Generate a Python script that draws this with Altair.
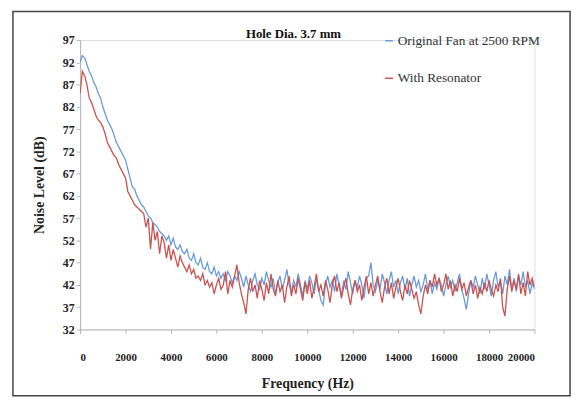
import altair as alt
import pandas as pd

# Frequency grid (Hz)
freq_hz = list(range(0, 20001, 100))

# Original fan at 2500 RPM (dB)
original = [
    92, 93.5, 93, 91.5, 90, 89, 87.5, 86.5, 85, 84,
    82, 80.5, 79, 78, 77, 75.5, 74, 73, 72, 71,
    70, 68, 66, 64, 63.5, 62, 61, 60, 59.5, 58.5,
    57.5, 57, 56, 55.5, 55, 54, 53.5, 53, 52, 53,
    51, 52.5, 50.5, 50, 51, 49.5, 49, 50, 48, 47.5,
    49, 47, 46.5, 48, 46, 45.5, 47, 45, 44.5, 46,
    44, 45, 43.5, 44.5, 43, 45, 44, 42.5, 44, 43, 45,
    43.5, 41.5, 44, 42, 40.5, 43, 44.5, 42, 41, 43.5,
    42, 45, 43, 41.5, 43.5, 40, 42.5, 44, 41, 43,
    45.5, 42, 40.5, 43, 41.5, 44.5, 42, 39.5, 43, 41,
    44, 42.5, 40, 43.5, 41, 38.5, 37.5, 42, 44, 41.5,
    43, 40.5, 44.5, 42, 39.5, 43, 41, 45, 42.5, 40,
    43, 41.5, 44, 42, 39, 43.5, 44, 47, 42, 40.5,
    43, 41, 44.5, 42.5, 40, 43, 45, 41.5, 43, 40,
    42.5, 44, 41, 43.5, 39.5, 42, 44, 41.5, 43, 40.5,
    42, 44.5, 41, 43, 40, 42.5, 41, 43.5, 42, 39.5,
    42, 44, 41.5, 43, 40.5, 42.5, 44.5, 41, 39, 36.5,
    40, 43, 41.5, 44, 42, 40, 43.5, 41, 44.5, 42,
    39.5, 43, 45, 41.5, 43, 40, 44, 42, 45.5, 41,
    43.5, 40.5, 44, 42, 45, 41.5, 43, 40, 42.5, 41,
]

# With resonator (dB)
resonator = [
    85, 90, 89, 87, 84, 83, 81.5, 80, 79, 78.5,
    77.5, 76, 74, 73, 72, 71, 70.5, 69, 68, 67,
    66, 63, 62, 61, 60, 59.5, 59, 58.5, 58, 55,
    57, 50, 56, 52, 54, 49, 53, 51.5, 48, 51,
    47.5, 50, 48, 46, 48.5, 47, 46, 45, 46.5, 44.5,
    45.5, 43.5, 44, 43, 44.5, 42, 43, 41.5, 42.5, 40,
    42, 43.5, 41, 42, 45, 40, 43, 41.5, 44, 46.5, 42.5,
    40, 38, 35.5, 41, 43.5, 40.5, 42, 39, 43, 41,
    38.5, 42.5, 40, 44.5, 41, 39.5, 43, 40.5, 42, 38,
    41.5, 44, 39.5, 42, 40, 43.5, 41, 38.5, 42.5, 40,
    43, 39, 41.5, 44.5, 40.5, 42, 39.5, 43, 41, 38,
    42, 44, 40.5, 42.5, 39, 41.5, 43.5, 40, 37.5, 41,
    43, 40.5, 42, 38.5, 41.5, 44, 40, 42.5, 39.5, 42,
    44, 40.5, 38, 41.5, 43.5, 40, 42.5, 39, 41.5, 43.5,
    40.5, 38.5, 42, 40, 43, 41, 39, 40.5, 37.5, 35.5,
    39.5, 42, 40, 43, 41.5, 44.5, 42, 43.5, 40.5, 42,
    44.5, 41, 43, 39.5, 42, 40.5, 43.5, 41, 42.5, 39.5,
    41.5, 43, 40, 42, 39, 41.5, 40, 42.5, 40.5, 43,
    41, 39.5, 42, 40.5, 43.5, 37, 35, 41, 44, 40.5,
    43, 41, 44.5, 40, 42.5, 39.5, 45, 42, 43.5, 41.5,
]

series_names = ["Original Fan at 2500 RPM", "With Resonator"]
series_colors = ["#6a9bd8", "#c9524f"]
y_ticks = list(range(32, 98, 5))
x_ticks = list(range(0, 20001, 2000))
chart_title = "Hole Dia. 3.7 mm"

df = pd.DataFrame({
    "Frequency": freq_hz + freq_hz,
    "Level": original + resonator,
    "Series": [series_names[0]] * len(freq_hz) + [series_names[1]] * len(freq_hz),
})

serif = "'Liberation Serif', 'Times New Roman', 'DejaVu Serif', serif"
axis_gray = "#b5b5b5"

lines = alt.Chart(df).mark_line(strokeWidth=1.3, clip=True).encode(
    x=alt.X(
        "Frequency:Q",
        scale=alt.Scale(domain=[0, 20000], nice=False),
        axis=alt.Axis(
            values=x_ticks, format="d", title="Frequency (Hz)",
            grid=False, domainColor=axis_gray, tickColor=axis_gray, tickSize=4,
            labelFont=serif, labelFontSize=11, labelFontWeight="bold", labelColor="#222",
            labelPadding=18,
            titleFont=serif, titleFontSize=14, titleFontWeight="bold", titleColor="#222",
            titlePadding=15,
        ),
    ),
    y=alt.Y(
        "Level:Q",
        scale=alt.Scale(domain=[32, 97], nice=False, zero=False),
        axis=alt.Axis(
            values=y_ticks, title="Noise Level (dB)",
            grid=False, domainColor=axis_gray, tickColor=axis_gray, tickSize=4,
            labelFont=serif, labelFontSize=12, labelFontWeight="bold", labelColor="#222",
            titleFont=serif, titleFontSize=14, titleFontWeight="bold", titleColor="#222",
            titlePadding=16,
        ),
    ),
    color=alt.Color(
        "Series:N",
        scale=alt.Scale(domain=series_names, range=series_colors),
        legend=alt.Legend(
            title=None, orient="none", legendX=306, legendY=-6,
            symbolType="stroke", symbolStrokeWidth=1.5, symbolSize=64,
            labelFont=serif, labelFontSize=13.5, labelColor="#333",
            rowPadding=23, labelOffset=2,
        ),
    ),
)

frame = alt.Chart(pd.DataFrame({"k": [0]})).mark_rect(
    fill="transparent", stroke="#444", strokeWidth=1.5
).encode(
    x=alt.value(-68), x2=alt.value(496), y=alt.value(-29), y2=alt.value(360)
)

title_text = alt.Chart(pd.DataFrame({"t": [chart_title]})).mark_text(
    font=serif, fontSize=13, fontWeight="bold", color="#111",
    align="center", baseline="middle",
).encode(
    text="t:N", x=alt.value(216), y=alt.value(-6)
)

chart = alt.layer(frame, lines, title_text).properties(
    width=460,
    height=293,
    padding={"left": 73, "top": 30, "right": 40, "bottom": 70},
    autosize=alt.AutoSizeParams(type="none"),
).configure_view(strokeWidth=0).configure(background="white")

chart.save("out.html", embed_options={"renderer": "svg", "actions": False})
